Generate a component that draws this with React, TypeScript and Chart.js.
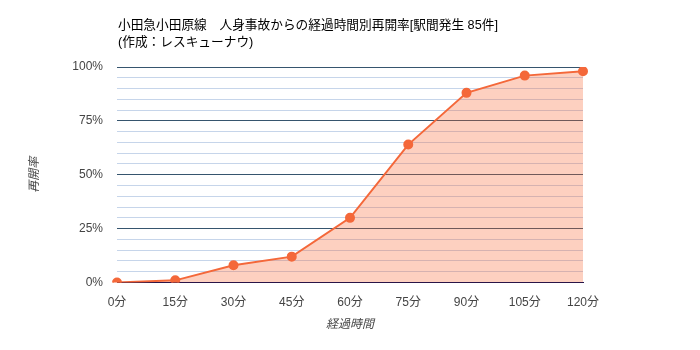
import React, { useEffect, useRef } from "react";
import { Chart, registerables } from "chart.js";

Chart.register(...registerables);

const titleLines = ["小田急小田原線　人身事故からの経過時間別再開率[駅間発生 85件]", "(作成：レスキューナウ)"];
const xAxisTitle = "経過時間";
const yAxisTitle = "再開率";
const categories = ["0分", "15分", "30分", "45分", "60分", "75分", "90分", "105分", "120分"];
const reopenRate = [0, 1, 8, 12, 30, 64, 88, 96, 98];

const FONT = "Arial, 'Liberation Sans', 'Noto Sans CJK JP', sans-serif";

const textPlugin = {
  id: "customTexts",
  afterDraw(chart: any) {
    const { ctx, chartArea } = chart;
    ctx.save();
    ctx.fillStyle = "#000";
    ctx.font = `12.7px ${FONT}`;
    ctx.textAlign = "left";
    ctx.textBaseline = "middle";
    ctx.fillText(titleLines[0], chartArea.left + 1, 25);
    ctx.fillText(titleLines[1], chartArea.left + 1, 42);
    ctx.fillStyle = "#444";
    ctx.font = `italic 12px ${FONT}`;
    ctx.textAlign = "center";
    ctx.fillText(xAxisTitle, (chartArea.left + chartArea.right) / 2, 325);
    ctx.translate(35, (chartArea.top + chartArea.bottom) / 2);
    ctx.rotate(-Math.PI / 2);
    ctx.fillText(yAxisTitle, 0, 0);
    ctx.restore();
  },
};

export default function App() {
  const ref = useRef<HTMLCanvasElement>(null);
  useEffect(() => {
    document.body.style.margin = "0";
    const chart = new Chart(ref.current!, {
      type: "line",
      data: {
        labels: categories,
        datasets: [
          {
            data: reopenRate,
            borderColor: "#f4683a",
            backgroundColor: "rgba(248,98,45,0.3)",
            pointBackgroundColor: "#f4683a",
            pointBorderColor: "#f4683a",
            pointRadius: 4,
            borderWidth: 2,
            fill: "origin",
            tension: 0,
          },
        ],
      },
      options: {
        animation: false,
        responsive: false,
        maintainAspectRatio: false,
        layout: { padding: { top: 67, right: 117, bottom: 0, left: 0 } },
        plugins: { legend: { display: false }, tooltip: { enabled: false }, title: { display: false } },
        scales: {
          x: {
            offset: false,
            grid: { display: false },
            border: { display: true, color: "#22124a", width: 1 },
            ticks: { color: "#444", font: { family: FONT, size: 12 }, padding: 5, maxRotation: 0, autoSkip: false },
            afterFit(scale: any) {
              scale.height = 67.5;
            },
          },
          y: {
            min: 0,
            max: 100,
            grid: {
              drawTicks: false,
              color: (c: any) => {
                const v = c.tick?.value;
                if (v === 0) return "#22124a";
                return v % 25 === 0 ? "#36556e" : "#c6d5ea";
              },
            },
            border: { display: false },
            ticks: {
              stepSize: 5,
              autoSkip: false,
              color: "#444",
              font: { family: FONT, size: 12 },
              padding: 14,
              callback: (v: any) => (Number(v) % 25 === 0 ? v + "%" : ""),
            },
            afterFit(scale: any) {
              scale.width = 117;
            },
          },
        },
      },
      plugins: [textPlugin],
    });
    return () => chart.destroy();
  }, []);
  return (
    <div style={{ position: "absolute", left: 0, top: 0, width: 700, height: 350 }}>
      <canvas ref={ref} width={700} height={350} style={{ width: 700, height: 350 }} />
    </div>
  );
}
